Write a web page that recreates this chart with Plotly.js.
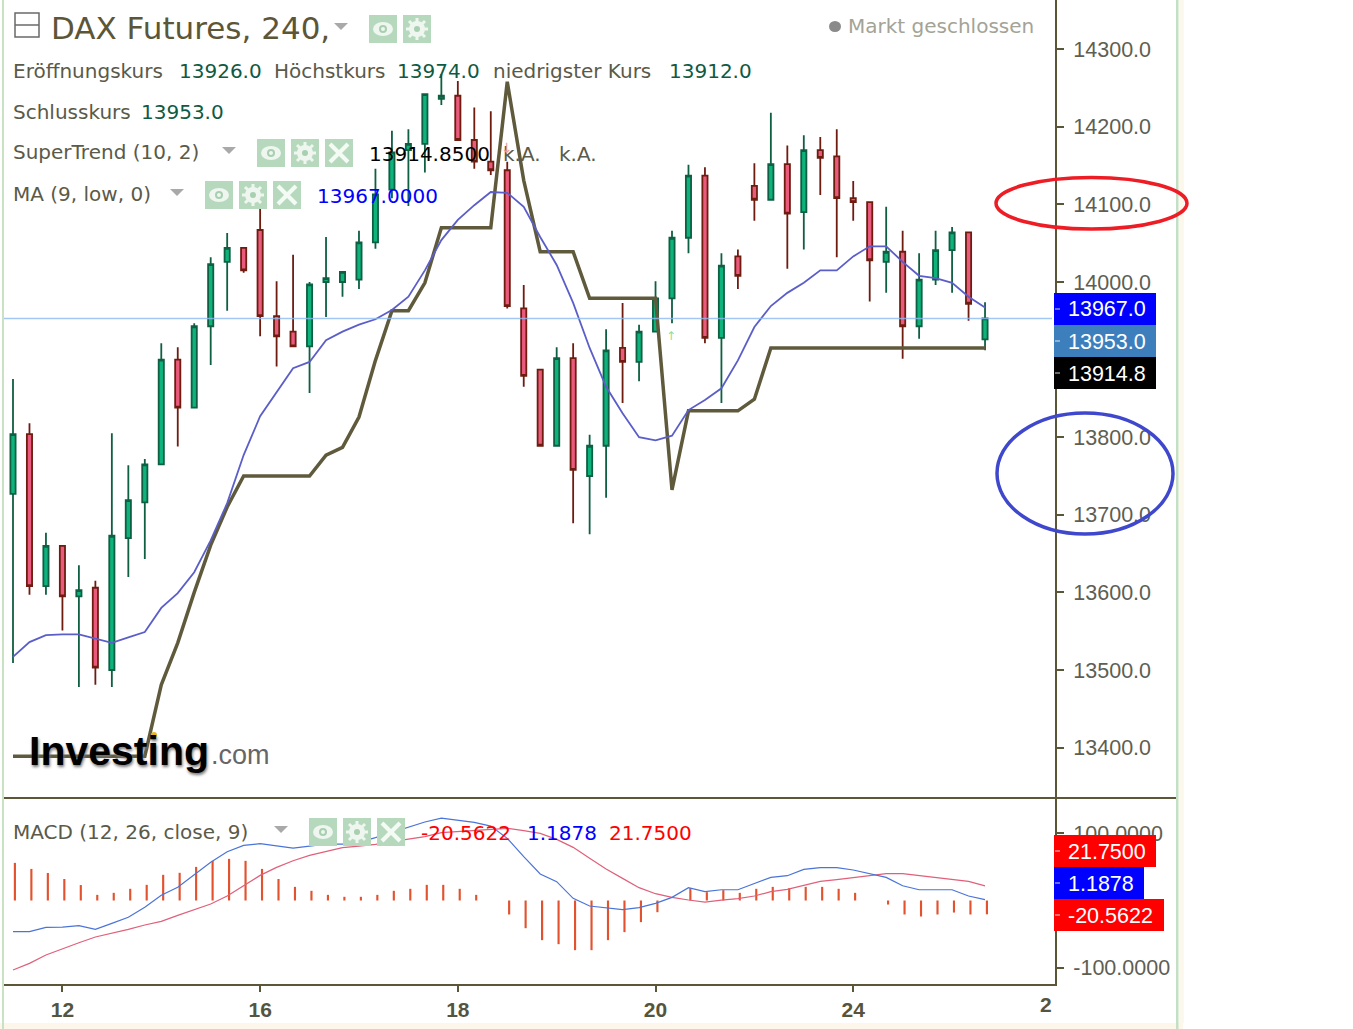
<!DOCTYPE html>
<html><head><meta charset="utf-8">
<script src="https://cdn.plot.ly/plotly-3.0.1.min.js"></script>
<style>html,body{margin:0;padding:0;background:#fff}#c{width:1353px;height:1029px}</style>
</head><body><div id="c"></div>
<script>
// ---- data ----
const opens  = [13727,13804,13608,13660,13595,13606,13500,13670,13716,13765,13900,13838,13943,14026,14044,14067,13956,13936,13917,14000,14000,14003,14051,14119,14170,14178,14236,14240,14183,14155,14144,13966,13887,13789,13902,13750,13789,13915,13897,13936,13979,14057,14137,13928,14033,14124,14106,14152,14090,14170,14162,14108,14103,14026,14039,13943,14003,14041,14064,13926];
const highs  = [13875,13818,13677,13660,13635,13615,13805,13764,13772,13921,13916,13947,14032,14063,14044,14094,14001,14035,14000,14058,14013,14066,14146,14195,14197,14242,14268,14259,14225,14220,14155,13996,13887,13916,13921,13803,13939,13973,13945,14001,14066,14151,14148,14037,14042,14153,14218,14176,14189,14187,14197,14130,14103,14097,14066,14037,14066,14071,14064,13974];
const lows   = [13509,13597,13597,13551,13478,13481,13478,13620,13643,13765,13788,13838,13893,13963,14012,13930,13891,13917,13857,13955,13981,13991,14043,14108,14098,14141,14228,14183,14146,14138,13966,13865,13789,13789,13689,13675,13722,13844,13872,13936,13947,14037,13921,13844,13991,14079,14106,14017,14042,14112,14032,14079,13975,13986,13901,13927,13996,13986,13950,13912];
const closes = [13804,13608,13660,13595,13603,13503,13673,13719,13765,13900,13838,13943,14023,14044,14015,13956,13930,13917,13997,14005,14013,14051,14113,14167,14178,14242,14240,14183,14155,14144,13969,13879,13789,13902,13758,13789,13912,13897,13936,13979,14057,14137,13928,14021,14008,14106,14152,14088,14170,14160,14108,14103,14028,14039,13943,14003,14041,14064,13972,13953];
const superTrend = [13389,13389,13389,13389,13389,13389,13389,13389,13389,13481,13535,13600,13661,13710,13750,13750,13750,13750,13750,13777,13787,13826,13899,13963,13963,13999,14070,14070,14070,14070,14258,14131,14039,14039,14039,13979,13979,13979,13979,13979,13732,13834,13834,13834,13834,13849,13915,13915,13915,13915,13915,13915,13915,13915,13915,13915,13915,13915,13915,13915];
const movingAvg = [13517,13536,13545,13546,13546,13540,13535,13542,13549,13580,13599,13626,13667,13715,13777,13827,13858,13889,13897,13925,13936,13945,13952,13964,13981,14015,14054,14080,14099,14116,14115,14097,14058,14022,13973,13915,13865,13831,13800,13796,13802,13835,13848,13863,13899,13942,13969,13986,13999,14015,14015,14033,14046,14046,14026,14008,14005,13999,13981,13967];
const macdLine = [-46.4,-46.4,-40,-39.5,-37.5,-43,-34,-25,-10,7.7,19.6,38,56.8,72.6,82,84.5,81,78,81,84,84,86.5,93.5,101,108.4,116.8,122.7,119.8,116.3,110.8,92.5,65.2,39.4,28,3.2,-8.2,-10.7,-13.7,-10.7,-4.2,4.7,19,13.1,16,16,25.5,34.4,36.9,46.4,48.8,48.8,45.4,40.4,34.4,22,16,16,16,6.7,1.19];
const signalLine = [-103.4,-93.5,-81.1,-71.7,-62.8,-54.3,-48.9,-42.9,-36.5,-31,-22.1,-13.2,-5.2,6.7,22.1,37.4,49.3,59.2,67.2,73.1,78.6,81,83.6,87.5,91,95,100.9,102.4,103.9,105.9,107.4,103.9,99.9,91,79.1,62.7,46.8,32.9,19.1,10.1,4.7,0.7,-2.3,0.7,2.7,6.7,13.1,16.6,22.1,28.5,31,34,36.9,39.9,39.9,36.9,33.5,30.5,28.5,21.75];
const macdHist = [56,47,41,32,23,8.4,11.4,17.4,23.3,38.2,41.2,50,59,62,59,47,32,20.3,14.4,8.4,5.5,5.5,8.4,14.4,17.4,23.3,23.3,17.4,8.4,0,-20.8,-41.2,-59,-65,-73.9,-73.9,-59,-47.1,-32.2,-17.4,0,18.4,12.4,15.4,11.4,17.4,20.3,18.4,20.3,20.3,17.4,11.4,0,-6,-20.8,-23.8,-20.8,-17.9,-20.8,-20.56];
const bars = opens.map((_, i) => i);
const dateTickPos = [3,15,27,39,51];
const dateTickText = ['12','16','18','20','24'];
const priceTicks = [13400,13500,13600,13700,13800,13900,14000,14100,14200,14300];
const priceTickText = ['13400.0','13500.0','13600.0','13700.0','13800.0','','14000.0','14100.0','14200.0','14300.0'];
const macdTicks = [100,-100];
const macdTickText = ['100.0000','-100.0000'];
const lastPrice = 13953;

// ---- page geometry helpers (for chart furniture only) ----
const W=1353,H=1029,L=4,R=1055,B=984,SPLIT=798;
const px=x=>(x-L)/(R-L), py=y=>1-y/B;
const OLIVE='#5c5638', GREY='#5e5e52';
const shapes=[], notes=[];
function rect(x0,y0,x1,y1,fill,layer){shapes.push({type:'rect',xref:'paper',yref:'paper',x0:px(x0),x1:px(x1),y0:py(y0),y1:py(y1),fillcolor:fill,line:{width:0},layer:layer||'above'});}
function seg(x0,y0,x1,y1,color,w){shapes.push({type:'line',xref:'paper',yref:'paper',x0:px(x0),x1:px(x1),y0:py(y0),y1:py(y1),line:{color:color,width:w},layer:'above'});}
function oval(x0,y0,x1,y1,fill,color,w){shapes.push({type:'circle',xref:'paper',yref:'paper',x0:px(x0),x1:px(x1),y0:py(y0),y1:py(y1),fillcolor:fill,line:{color:color,width:w},layer:'above'});}
function txt(s,x,y,color,size,fam,extra){notes.push(Object.assign({text:s,xref:'paper',yref:'paper',x:px(x),y:py(y),xanchor:'left',yanchor:'middle',showarrow:false,borderpad:0,borderwidth:0,font:{family:fam||'"DejaVu Sans"',size:size||20,color:color}},extra||{}));}
function tri(x,y){const w=14,h=7;shapes.push({type:'path',xref:'paper',yref:'paper',path:`M ${px(x)} ${py(y)} L ${px(x+w)} ${py(y)} L ${px(x+w/2)} ${py(y+h)} Z`,fillcolor:'#a9a9a9',line:{width:0},layer:'above'});}
const ICON='#b6d9bd';
function eye(x,y){rect(x,y,x+28,y+28,ICON);oval(x+4,y+7,x+24,y+21,'#eef6ef','#eef6ef',0);oval(x+10,y+10,x+18,y+18,'#a9cfb1','#a9cfb1',0);oval(x+12,y+12,x+16,y+16,'#eef6ef','#eef6ef',0);}
function gear(x,y){rect(x,y,x+28,y+28,ICON);oval(x+6,y+6,x+22,y+22,'#eef6ef','#eef6ef',0);seg(x+14,y+3,x+14,y+25,'#eef6ef',3);seg(x+3,y+14,x+25,y+14,'#eef6ef',3);seg(x+6,y+6,x+22,y+22,'#eef6ef',3);seg(x+22,y+6,x+6,y+22,'#eef6ef',3);oval(x+11,y+11,x+17,y+17,'#a9cfb1','#a9cfb1',0);}
function cross(x,y){rect(x,y,x+28,y+28,ICON);seg(x+5,y+5,x+23,y+23,'#f4faf4',4);seg(x+23,y+5,x+5,y+23,'#f4faf4',4);}

// page frame
rect(0,1023,1183,1029,'#fdf6ea');
rect(1179,0,1184,1023,'#fdf8ec');
rect(2,0,4,1029,'#c9e2c4');
rect(1176,0,1178.5,1029,'#c4dfc4');
seg(4,SPLIT,1176,SPLIT,OLIVE,2);
// last price line
shapes.push({type:'line',xref:'paper',yref:'y',x0:0,x1:px(1052),y0:lastPrice,y1:lastPrice,line:{color:'rgba(140,185,240,0.8)',width:1.5},layer:'above'});
// collapse box
shapes.push({type:'rect',xref:'paper',yref:'paper',x0:px(15),x1:px(39),y0:py(13),y1:py(37),line:{color:'#6a6a6a',width:1.5},layer:'above'});
seg(15,25,39,25,'#6a6a6a',1.5);
// header icons
tri(334,23);eye(369,15);gear(403,15);
tri(222,147);eye(257,139);gear(291,139);cross(325,139);
tri(170,189);eye(205,181);gear(239,181);cross(273,181);
tri(274,826);eye(309,818);gear(343,818);cross(377,818);

// header text
const VAL='#0f5a42', LBL='#5a5a4a';
txt('DAX Futures, 240,',51,28,OLIVE,31);
txt('Markt geschlossen',848,26,'#a3a396',20);
oval(829,21,841,32,'#8a8a8a','#8a8a8a',0);
txt('Eröffnungskurs',13,71,LBL);txt('13926.0',179,71,VAL);
txt('Höchstkurs',274,71,LBL);txt('13974.0',397,71,VAL);
txt('niedrigster Kurs',493,71,LBL);txt('13912.0',669,71,VAL);
txt('Schlusskurs',13,112,LBL);txt('13953.0',141,112,VAL);
txt('SuperTrend (10, 2)',13,152,LBL);txt('13914.8500',369,154,'#000');
txt('k.A.',503,154,LBL);txt('k.A.',559,154,LBL);
txt('MA (9, low, 0)',13,194,LBL);txt('13967.0000',317,196,'#0000ff');
txt('MACD (12, 26, close, 9)',13,832,LBL);
txt('-20.5622',421,833,'#ff0000');txt('1.1878',527,833,'#0000ff');txt('21.7500',609,833,'#ff0000');

// price tags
function tag(s,x1,y0,bg){rect(1054,y0,x1,y0+32,bg);seg(1055,y0+16,1060,y0+16,'rgba(255,255,255,0.55)',1.5);
  txt(s,1068,y0+16.5,'#fff',21.5,'"Liberation Sans"');}
tag('13967.0',1156,293,'#0000ff');
tag('13953.0',1156,325,'#3d7fbd');
tag('13914.8',1156,357,'#000000');
tag('21.7500',1156,835,'#ff0000');
tag('1.1878',1144,867,'#0000ff');
tag('-20.5622',1164,899,'#ff0000');

// hand-drawn circles on the screenshot
oval(996,177.5,1187,229,'rgba(0,0,0,0)','#ee1c25',3.5);
oval(997,413,1173,534,'rgba(0,0,0,0)','#3f48cc',3.5);

// x-axis label at the right edge
txt('2',1046,1005,'#55553f',21,'"Liberation Sans"',{xanchor:'center',font:{family:'"Liberation Sans"',size:21,color:'#55553f',weight:700}});

// signal arrows
txt('↓',507,148,'#f29a9a',14,'"DejaVu Sans"',{xanchor:'center'});
txt('↑',671,336,'#8fe08f',12,'"DejaVu Sans"',{xanchor:'center'});

// logo
txt('Investing',29,751,'#000',41,'"Liberation Sans"',{font:{family:'"Liberation Sans"',size:41,color:'#000',weight:700,shadow:'1px 2px 3px #777'}});
txt('.com',211,755,'#666',27,'"Liberation Sans"');
oval(151,732,157,738,'#e8b52a','#e8b52a',0);

const traces=[
 {type:'candlestick',x:bars,open:opens,high:highs,low:lows,close:closes,xaxis:'x',yaxis:'y',whiskerwidth:0,
  increasing:{line:{color:'#0f5f42',width:1.8},fillcolor:'#0db27c'},
  decreasing:{line:{color:'#6e1c10',width:1.8},fillcolor:'#ea5a7c'},showlegend:false,hoverinfo:'skip'},
 {type:'scatter',mode:'lines',x:bars,y:superTrend,xaxis:'x',yaxis:'y',line:{color:'#5f5a3c',width:3.5},hoverinfo:'skip'},
 {type:'scatter',mode:'lines',x:bars,y:movingAvg,xaxis:'x',yaxis:'y',line:{color:'#5b5ec8',width:1.8},hoverinfo:'skip'},
 {type:'bar',x:bars,y:macdHist,xaxis:'x',yaxis:'y2',marker:{color:'#e2522f',line:{width:0}},width:0.13,offset:0.05,hoverinfo:'skip'},
 {type:'scatter',mode:'lines',x:bars,y:signalLine,xaxis:'x',yaxis:'y2',line:{color:'#e0607a',width:1.2},hoverinfo:'skip'},
 {type:'scatter',mode:'lines',x:bars,y:macdLine,xaxis:'x',yaxis:'y2',line:{color:'#4a74d8',width:1.2},hoverinfo:'skip'}
];
const tickFont={family:'"Liberation Sans"',size:21.5,color:GREY};
const layout={
 width:W,height:H,margin:{l:L,r:W-R,t:0,b:H-B,pad:0},paper_bgcolor:'#fff',plot_bgcolor:'#fff',showlegend:false,boxgap:0.55,hovermode:false,
 xaxis:{domain:[0,1],range:[(L-13)/16.475,(R-13)/16.475],anchor:'y2',rangeslider:{visible:false},showgrid:false,zeroline:false,
  tickmode:'array',tickvals:dateTickPos,ticktext:dateTickText,ticks:'outside',ticklen:6,tickwidth:2,tickcolor:OLIVE,
  showline:true,linecolor:OLIVE,linewidth:2,tickfont:{family:'"Liberation Sans"',size:21,color:'#55553f',weight:700}},
 yaxis:{domain:[1-SPLIT/B,1],range:[14000-(SPLIT-282)/0.776,14000+282/0.776],side:'right',anchor:'x',showgrid:false,zeroline:false,
  tickmode:'array',tickvals:priceTicks,ticktext:priceTickText,ticks:'outside',ticklen:7,tickwidth:2,tickcolor:OLIVE,
  showline:true,linecolor:OLIVE,linewidth:2,tickfont:tickFont,ticklabelstandoff:5},
 yaxis2:{domain:[0,1-SPLIT/B],range:[(900.5-B)/0.672,(900.5-SPLIT)/0.672],side:'right',anchor:'x',showgrid:false,zeroline:false,
  tickmode:'array',tickvals:macdTicks,ticktext:macdTickText,ticks:'outside',ticklen:7,tickwidth:2,tickcolor:OLIVE,
  showline:true,linecolor:OLIVE,linewidth:2,tickfont:tickFont,ticklabelstandoff:5},
 shapes:shapes,annotations:notes
};
Plotly.newPlot('c',traces,layout,{displayModeBar:false,staticPlot:true});
</script></body></html>
